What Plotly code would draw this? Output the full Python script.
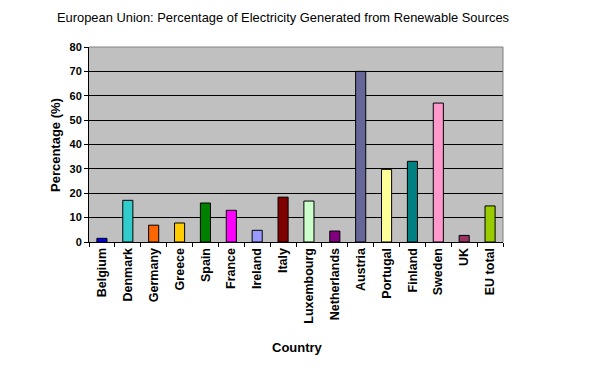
import plotly.graph_objects as go

countries = ["Belgium", "Denmark", "Germany", "Greece", "Spain", "France", "Ireland", "Italy",
             "Luxembourg", "Netherlands", "Austria", "Portugal", "Finland", "Sweden", "UK", "EU total"]
values = [1.5, 17.1, 6.9, 7.8, 16.0, 13.0, 4.8, 18.4, 16.8, 4.5, 70.0, 29.8, 33.1, 57.0, 2.7, 14.8]
colors = ["#0000FF", "#33CCCC", "#FF6600", "#FFCC00", "#008000", "#FF00FF", "#9999FF", "#800000",
          "#CCFFCC", "#800080", "#666699", "#FFFF99", "#008080", "#FF99CC", "#993366", "#99CC00"]
y_ticks = [0, 10, 20, 30, 40, 50, 60, 70, 80]

font_family = "Liberation Sans, Arial, sans-serif"

fig = go.Figure(go.Bar(
    x=countries, y=values,
    marker=dict(color=colors, line=dict(color="black", width=1)),
))

fig.update_layout(
    width=600, height=375,
    margin=dict(l=81, r=105, t=39, b=141),
    paper_bgcolor="white", plot_bgcolor="#C0C0C0",
    bargap=0.61,
    showlegend=False,
    font=dict(family=font_family, color="black"),
    title=dict(text="European Union: Percentage of Electricity Generated from Renewable Sources",
               x=275/600, xanchor="center", xref="container", y=1-9/375, yanchor="middle",
               font=dict(size=12.9, family=font_family, color="black")),
)

fig.update_xaxes(
    tickangle=-90, tickfont=dict(size=12.5, family=font_family, color="black", weight="bold"),
    showline=True, linecolor="black", linewidth=1,
    ticks="outside", ticklen=4, tickcolor="black", tickson="boundaries",
    showgrid=False,
)
fig.update_yaxes(
    range=[0, 80], tickvals=y_ticks,
    tickfont=dict(size=11, family=font_family, color="black", weight="bold"),
    showline=True, linecolor="black", linewidth=1,
    ticks="outside", ticklen=4, tickcolor="black",
    showgrid=True, gridcolor="black", gridwidth=1,
    zeroline=False,
)

# grey frame on top and right
fig.add_shape(type="line", xref="paper", yref="paper", x0=0, x1=1, y0=1, y1=1,
              line=dict(color="#808080", width=1), layer="above")
fig.add_shape(type="line", xref="paper", yref="paper", x0=1, x1=1, y0=0, y1=1,
              line=dict(color="#808080", width=1), layer="above")

fig.add_annotation(text="<b>Country</b>", xref="paper", yref="paper",
                   x=(297-89)/(503-89), y=-(347-242)/195, xanchor="center", yanchor="middle",
                   showarrow=False, font=dict(size=13, family=font_family, color="black"))
fig.add_annotation(text="<b>Percentage (%)</b>", xref="paper", yref="paper",
                   x=-(89-55)/(503-89), y=(242-145)/195, xanchor="center", yanchor="middle",
                   textangle=-90, showarrow=False,
                   font=dict(size=13, family=font_family, color="black"))

fig.write_html("out.html")
